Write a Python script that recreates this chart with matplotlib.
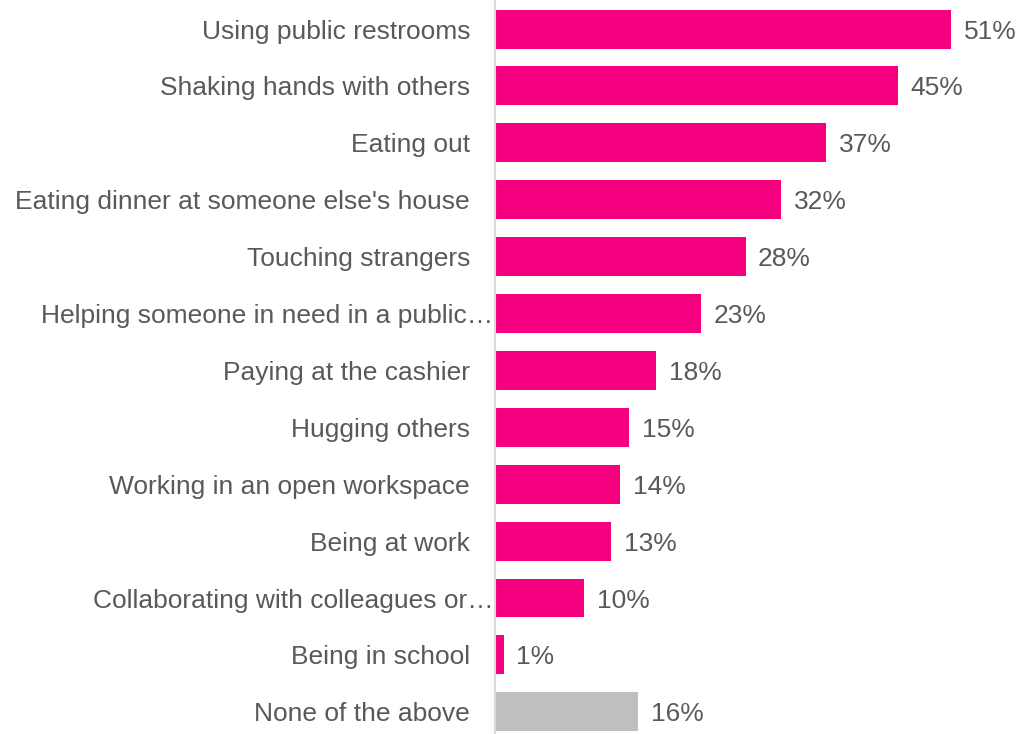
import matplotlib.pyplot as plt

plt.rcParams['font.family'] = ['Liberation Sans', 'DejaVu Sans']

categories = [
    "Using public restrooms",
    "Shaking hands with others",
    "Eating out",
    "Eating dinner at someone else's house",
    "Touching strangers",
    "Helping someone in need in a public\u2026",
    "Paying at the cashier",
    "Hugging others",
    "Working in an open workspace",
    "Being at work",
    "Collaborating with colleagues or\u2026",
    "Being in school",
    "None of the above",
]
values = [51, 45, 37, 32, 28, 23, 18, 15, 14, 13, 10, 1, 16]
bar_colors = ['#F5007F'] * 12 + ['#BFBFBF']

text_color = '#595959'

fig = plt.figure(figsize=(10.22, 7.34), dpi=100)
ax = fig.add_axes([495 / 1022, 0, 1 - 495 / 1022, 1])

pos = list(range(len(categories)))
ax.barh(pos, values, height=0.685, color=bar_colors)

for p, v in zip(pos, values):
    ax.text(v + 1.4, p, f"{v}%", va='center_baseline', ha='left',
            fontsize=19, color=text_color)

ax.set_xlim(0, 58.9)
ax.set_ylim(12.39, -0.51)
ax.set_yticks(pos)
ax.set_yticklabels(categories, fontsize=19, color=text_color,
                   va='center_baseline')
ax.tick_params(axis='y', length=0, pad=18)
ax.set_xticks([])

# truncated labels run right up to the axis line
for tick, name in zip(ax.yaxis.get_major_ticks(), categories):
    if name.endswith('\u2026'):
        tick.set_pad(1)

for side in ['top', 'right', 'bottom']:
    ax.spines[side].set_visible(False)
ax.spines['left'].set_color('#D9D9D9')
ax.spines['left'].set_linewidth(1.5)

fig.savefig('out.png', dpi=100)
